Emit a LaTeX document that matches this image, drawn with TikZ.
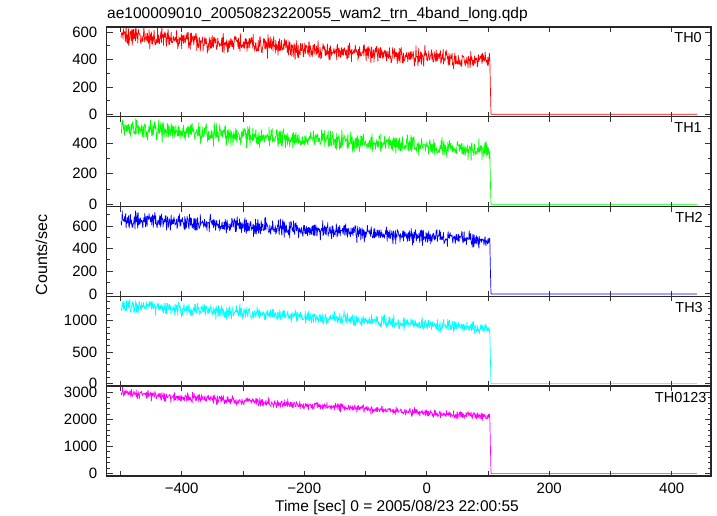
\documentclass[tikz,border=0pt]{standalone}
\usepackage{fontspec}
\setmainfont{Liberation Sans}
\definecolor{qred}{RGB}{255,0,0}
\definecolor{qgreen}{RGB}{0,255,0}
\definecolor{qblue}{RGB}{0,0,255}
\definecolor{qcyan}{RGB}{0,255,255}
\definecolor{qmagenta}{RGB}{255,0,255}
\begin{document}
\begin{tikzpicture}[x=1pt,y=-1pt,
  frame/.style={draw=black!85, line width=1.1pt},
  tickline/.style={draw=black!80, line width=0.9pt},
  data/.style={line width=0.7pt, line join=round},
  ticklab/.style={font=\fontsize{15}{15}\selectfont, inner sep=0pt},
  thlab/.style={font=\fontsize{14.5}{14.5}\selectfont, inner sep=0pt, anchor=base east},
  biglab/.style={font=\fontsize{15.5}{15.5}\selectfont, inner sep=0pt}]
\useasboundingbox (0,0) rectangle (717,516);
\pgfmathsetseed{7}
% panels: top/bottom/zero/scale/major/minor/colour/mean/slope/drop/label/labelx
\foreach \ptop/\pbot/\pzero/\psc/\pmaj/\pmin/\pcol/\pmean/\pslope/\pdrop/\plab/\plabx in {
  27/116.7/114.3/0.1367/{0,200,400,600}/{100,300,500}/qred/570/0.3/190/TH0/702,
  116.7/206.7/204.3/0.1525/{0,200,400}/{100,300,500}/qgreen/500/0.242/148/TH1/702,
  206.7/296.3/293.9/0.1132/{0,200,400,600}/{100,300,500,700}/qblue/655/0.297/208/TH2/703,
  296.3/386/383.6/0.0629/{0,500,1000}/{100,200,300,400,600,700,800,900,1100,1200,1300}/qcyan/1250/0.625/392/TH3/703,
  386/476/473.6/0.0271/{0,1000,2000,3000}/{200,400,600,800,1200,1400,1600,1800,2200,2400,2600,2800,3200}/qmagenta/2960/1.43/1000/TH0123/706.7}{
  \begin{scope}
    \clip (106.5,\ptop) rectangle (711,\pbot);
    \draw[data,\pcol] plot[domain=-499:103, samples=950]
      ({426.7+0.6125*\x}, {\pzero - \psc*(\pmean - \pslope*(\x+500) + 1.5*sqrt(\pmean - \pslope*(\x+500))*(rand+rand+rand))})
      -- ({426.7+0.6125*104}, {\pzero-\psc*\pdrop})
      -- ({426.7+0.6125*105}, \pzero)
      -- ({426.7+0.6125*441}, \pzero);
  \end{scope}
  \draw[frame] (106.5,\pbot) -- (711,\pbot);
  \foreach \t in {-500,-400,...,400}{
    \draw[tickline] ({426.7+0.6125*\t},\ptop) -- ++(0,5);
    \draw[tickline] ({426.7+0.6125*\t},\pbot) -- ++(0,-5);
  }
  \foreach \v in \pmaj{
    \draw[tickline] (106.5,{\pzero-\psc*\v}) -- ++(6.5,0);
    \draw[tickline] (711,{\pzero-\psc*\v}) -- ++(-6.5,0);
    \node[ticklab, anchor=east] (yl-\plab-\v) at (97.5,{\pzero-\psc*\v}) {\v};
  }
  \foreach \v in \pmin{
    \draw[tickline] (106.5,{\pzero-\psc*\v}) -- ++(3.5,0);
    \draw[tickline] (711,{\pzero-\psc*\v}) -- ++(-3.5,0);
  }
  \node[thlab] (lab-\plab) at (\plabx,{\ptop+16}) {\plab};
}
\draw[frame] (106.5,27) rectangle (711,476);
% x tick labels
\foreach \t/\s in {-400/−400,-200/−200,0/0,200/200,400/400}{
  \node[ticklab, anchor=base] (xl\t) at ({426.7+0.6125*\t},493.5) {\s};
}
\node[biglab, anchor=base west] (title) at (107,19) {ae100009010\_20050823220055\_wam2\_trn\_4band\_long.qdp};
\node[biglab, anchor=base] (xlabel) at (397,511.5) {Time [sec] 0 = 2005/08/23 22:00:55};
\node[font=\fontsize{16}{16}\selectfont, inner sep=0pt, anchor=base, rotate=90] (ylabel) at (47,255) {Counts/sec};
\end{tikzpicture}
\end{document}
